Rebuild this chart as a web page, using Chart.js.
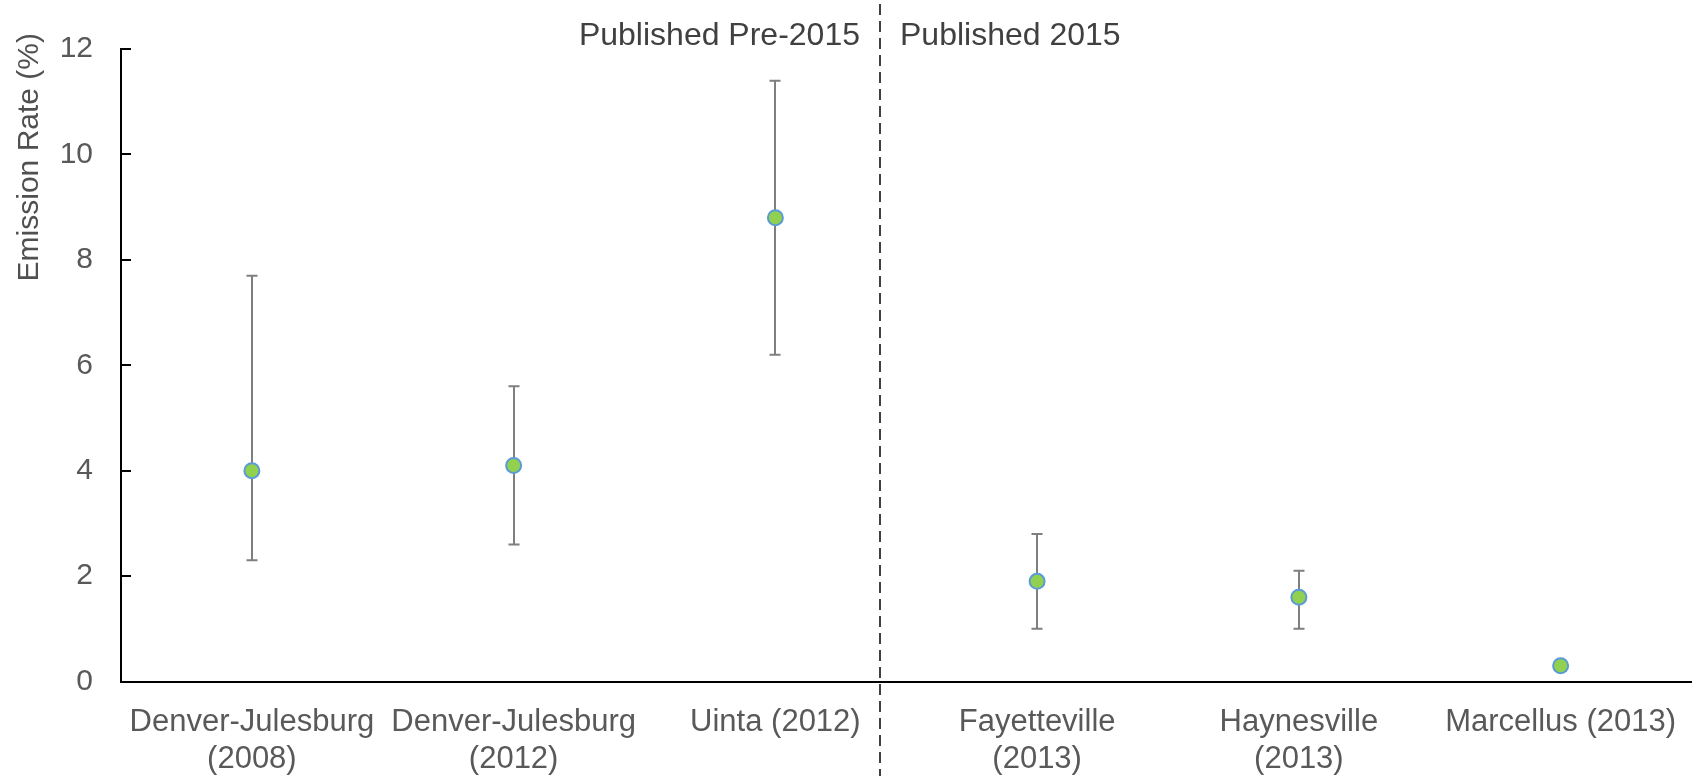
<!DOCTYPE html>
<html>
<head>
<meta charset="utf-8">
<script src="https://cdn.jsdelivr.net/npm/chart.js@4.4.1/dist/chart.umd.min.js"></script>
<style>
  html, body { margin: 0; padding: 0; background: #ffffff; }
  #wrap { width: 1701px; height: 776px; }
</style>
</head>
<body>
<div id="wrap"><canvas id="chart" width="1701" height="776"></canvas></div>
<script>
// Basin studies (category labels, multi-line where wrapped)
const basins = [
  ['Denver-Julesburg', '(2008)'],
  ['Denver-Julesburg', '(2012)'],
  'Uinta (2012)',
  ['Fayetteville', '(2013)'],
  ['Haynesville', '(2013)'],
  'Marcellus (2013)'
];
// Central emission-rate estimate (%)
const emissionRate = [4.0, 4.1, 8.8, 1.9, 1.6, 0.3];
// Lower and upper bounds of the uncertainty range (%)
const rateLow  = [2.3, 2.6, 6.2, 1.0, 1.0, 0.2];
const rateHigh = [7.7, 5.6, 11.4, 2.8, 2.1, 0.3];
// Y-axis tick values
const yTicks = [0, 2, 4, 6, 8, 10, 12];
// Publication-period split (category position) and its captions
const periodSplit = 2.4;
const periodLabels = ['Published Pre-2015', 'Published 2015'];
const axisTitle = 'Emission Rate (%)';

const FONT = '"Liberation Sans", Arial, Helvetica, sans-serif';

// Vertical error bars with end caps
const errorBars = {
  id: 'errorBars',
  beforeDatasetsDraw(chart) {
    const ctx = chart.ctx;
    const xs = chart.scales.x, ys = chart.scales.y;
    ctx.save();
    ctx.strokeStyle = '#7f7f7f';
    ctx.lineWidth = 2;
    const cap = 5.5;
    emissionRate.forEach((v, i) => {
      const x = Math.round(xs.getPixelForValue(i));
      const yl = ys.getPixelForValue(rateLow[i]);
      const yh = ys.getPixelForValue(rateHigh[i]);
      ctx.beginPath();
      ctx.moveTo(x, yl); ctx.lineTo(x, yh);
      ctx.moveTo(x - cap, yl); ctx.lineTo(x + cap, yl);
      ctx.moveTo(x - cap, yh); ctx.lineTo(x + cap, yh);
      ctx.stroke();
    });
    ctx.restore();
  }
};

// Inward tick marks on the value axis, the period divider and the captions
const decorations = {
  id: 'decorations',
  afterDraw(chart) {
    const ctx = chart.ctx;
    const xs = chart.scales.x, ys = chart.scales.y;
    const area = chart.chartArea;
    ctx.save();

    // inward ticks
    ctx.strokeStyle = '#000000';
    ctx.lineWidth = 2;
    yTicks.forEach(t => {
      const y = Math.round(ys.getPixelForValue(t));
      ctx.beginPath();
      ctx.moveTo(area.left, y);
      ctx.lineTo(area.left + 10, y);
      ctx.stroke();
    });

    // divider between publication periods
    const step = xs.getPixelForValue(1) - xs.getPixelForValue(0);
    const dx = Math.round(xs.getPixelForValue(0) + periodSplit * step);
    ctx.strokeStyle = '#404040';
    ctx.lineWidth = 2;
    ctx.setLineDash([11, 6]);
    ctx.beginPath();
    ctx.moveTo(dx, 4);
    ctx.lineTo(dx, chart.height);
    ctx.stroke();
    ctx.setLineDash([]);

    // period captions
    ctx.fillStyle = '#404040';
    ctx.font = '32px ' + FONT;
    ctx.textBaseline = 'alphabetic';
    ctx.textAlign = 'right';
    ctx.fillText(periodLabels[0], dx - 20, 45);
    ctx.textAlign = 'left';
    ctx.fillText(periodLabels[1], dx + 20, 45);

    // value axis title, rotated
    ctx.save();
    ctx.translate(30, area.top - 16);
    ctx.rotate(-Math.PI / 2);
    ctx.textAlign = 'right';
    ctx.textBaseline = 'middle';
    ctx.fillStyle = '#505050';
    ctx.font = '30px ' + FONT;
    ctx.fillText(axisTitle, 0, 0);
    ctx.restore();

    ctx.restore();
  }
};

new Chart(document.getElementById('chart'), {
  type: 'line',
  data: {
    labels: basins,
    datasets: [{
      data: emissionRate,
      showLine: false,
      pointRadius: 7.5,
      pointHoverRadius: 7.5,
      pointBackgroundColor: '#92d050',
      pointBorderColor: '#5b9bd5',
      pointBorderWidth: 2
    }]
  },
  options: {
    responsive: false,
    devicePixelRatio: 1,
    animation: false,
    layout: { padding: { top: 49, right: 6, left: 0, bottom: 0 } },
    plugins: {
      legend: { display: false },
      tooltip: { enabled: false },
      title: { display: false }
    },
    scales: {
      x: {
        type: 'category',
        offset: true,
        grid: { display: false, drawTicks: false },
        border: { display: true, color: '#000000', width: 2 },
        ticks: {
          autoSkip: false,
          maxRotation: 0,
          minRotation: 0,
          padding: 23,
          color: '#595959',
          font: { family: FONT, size: 31, lineHeight: 1.18 }
        },
        afterFit(scale) { scale.height = 94.5; }
      },
      y: {
        min: 0,
        max: 12,
        grid: { display: false, drawTicks: false },
        border: { display: true, color: '#000000', width: 2 },
        afterBuildTicks(scale) { scale.ticks = yTicks.map(v => ({ value: v })); },
        ticks: {
          padding: 28,
          color: '#595959',
          font: { family: FONT, size: 30 }
        },
        afterFit(scale) { scale.width = 121; }
      }
    }
  },
  plugins: [errorBars, decorations]
});
</script>
</body>
</html>
